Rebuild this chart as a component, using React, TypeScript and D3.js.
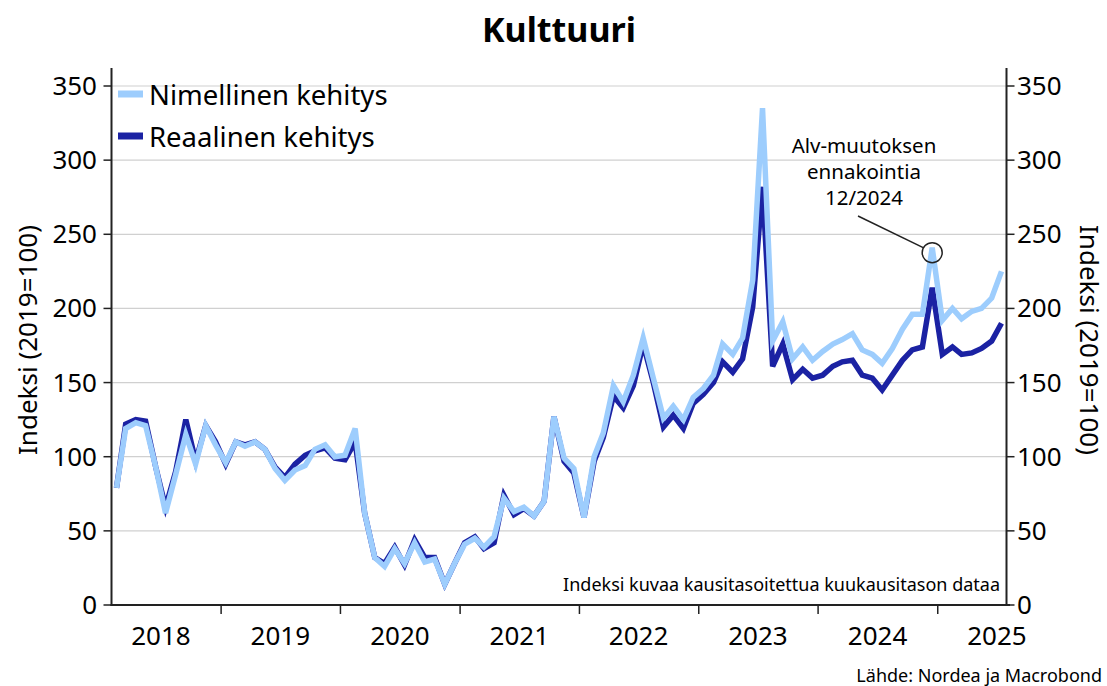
import React from 'react';
import * as d3 from 'd3';

// monthly, Feb 2018 .. Jul 2025
const startMonth = new Date(2018, 1, 15);

const nominal = [
  79, 119, 123, 121, 93, 62, 88, 115, 95, 121, 108,
  96, 110, 107, 110, 105, 92, 84, 91, 94, 105, 108, 100,
  101, 119, 62, 32, 26, 38, 28, 42, 29, 31, 14, 28,
  41, 45, 39, 46, 72, 63, 66, 60, 70, 127, 99, 92,
  59, 100, 116, 148, 137, 155, 180, 153, 126, 134, 125, 140,
  146, 155, 176, 169, 180, 219, 335, 178, 191, 166, 174, 165,
  171, 176, 179, 183, 172, 169, 163, 173, 186, 196, 196, 241,
  192, 200, 193, 198, 200, 207, 225,
];

const real = [
  79, 122, 125, 124, 93, 66, 90, 125, 97, 121, 110,
  95, 110, 108, 110, 105, 93, 86, 95, 101, 104, 106, 99,
  98, 110, 62, 32, 28, 39, 27, 44, 32, 32, 14, 28,
  42, 46, 38, 42, 74, 61, 65, 60, 70, 127, 97, 89,
  59, 97, 113, 141, 133, 148, 176, 150, 120, 128, 119, 136,
  142, 150, 164, 157, 166, 201, 282, 161, 176, 152, 159, 153,
  155, 161, 164, 165, 155, 153, 145, 155, 165, 172, 174, 214,
  169, 174, 169, 170, 173, 178, 190,
];

const years = [2018, 2019, 2020, 2021, 2022, 2023, 2024, 2025];
const yTicks = [0, 50, 100, 150, 200, 250, 300, 350];

const seriesNames = ['Nimellinen kehitys', 'Reaalinen kehitys'];
const colors = ['#9dcdfd', '#1b22a3'];

const W = 1107;
const H = 686;
const left = 111.5;
const right = 1006.5;
const top = 68;
const bottom = 605;
const font = '"Noto Sans", sans-serif';

const dates = nominal.map((_, i) => new Date(startMonth.getFullYear(), startMonth.getMonth() + i, 15));

const x = d3.scaleTime()
  .domain([dates[0], dates[dates.length - 1]])
  .range([116.5, 1001.5]);

const y = d3.scaleLinear().domain([0, 350]).range([bottom, 86]);

const line = d3.line<number>()
  .x((_, i) => x(dates[i]))
  .y(d => y(d));

const App = () => {
  const markIdx = dates.findIndex(d => d.getFullYear() === 2024 && d.getMonth() === 11);
  const mx = x(dates[markIdx]);
  const my = y(nominal[markIdx]);

  return (
    <svg width={W} height={H} style={{ display: 'block', position: 'absolute', left: 0, top: 0, background: '#fff' }}>
      <rect width={W} height={H} fill="#fff" />
      <text x={559} y={42} textAnchor="middle" fontFamily={font} fontWeight="bold" fontSize={34} fill="#000">
        Kulttuuri
      </text>

      {/* gridlines */}
      {yTicks.filter(t => t > 0).map(t => (
        <line key={t} x1={left} x2={right} y1={y(t)} y2={y(t)} stroke="#d0d0d0" strokeWidth={1.2} />
      ))}

      {/* left axis */}
      <line x1={left} x2={left} y1={top} y2={bottom + 1} stroke="#222" strokeWidth={2} />
      {yTicks.map(t => (
        <g key={'l' + t}>
          <line x1={left - 8} x2={left} y1={y(t)} y2={y(t)} stroke="#222" strokeWidth={1.5} />
          <text x={97} y={y(t) + 9} textAnchor="end" fontFamily={font} fontSize={26} fill="#000">{t}</text>
        </g>
      ))}
      <text transform={`translate(37,${340}) rotate(-90)`} textAnchor="middle"
        fontFamily={font} fontSize={26} fill="#000">Indeksi (2019=100)</text>

      {/* right axis */}
      <line x1={right} x2={right} y1={top} y2={bottom + 1} stroke="#222" strokeWidth={2} />
      {yTicks.map(t => (
        <g key={'r' + t}>
          <line x1={right} x2={right + 8} y1={y(t)} y2={y(t)} stroke="#222" strokeWidth={1.5} />
          <text x={1017} y={y(t) + 9} textAnchor="start" fontFamily={font} fontSize={26} fill="#000">{t}</text>
        </g>
      ))}
      <text transform={`translate(1080,${340}) rotate(90)`} textAnchor="middle"
        fontFamily={font} fontSize={26} fill="#000">Indeksi (2019=100)</text>

      {/* bottom axis */}
      <line x1={left - 1} x2={1010} y1={bottom} y2={bottom} stroke="#222" strokeWidth={2} />
      {years.slice(1).map(yr => (
        <line key={'t' + yr} x1={x(new Date(yr, 0, 1))} x2={x(new Date(yr, 0, 1))} y1={bottom} y2={bottom + 9}
          stroke="#222" strokeWidth={1.5} />
      ))}
      {years.map(yr => (
        <text key={'y' + yr} x={x(new Date(yr, 6, 1))} y={645} textAnchor="middle" fontFamily={font}
          fontSize={26} fill="#000">{yr}</text>
      ))}

      {/* series */}
      <path d={line(real) || ''} fill="none" stroke={colors[1]} strokeWidth={5.5} />
      <path d={line(nominal) || ''} fill="none" stroke={colors[0]} strokeWidth={5.5} />

      {/* legend */}
      {seriesNames.map((name, i) => (
        <g key={name} transform={`translate(0,${i * 42})`}>
          <line x1={118} x2={143} y1={94} y2={94} stroke={colors[i]} strokeWidth={7} />
          <text x={149} y={105} fontFamily={font} fontSize={27.5} fill="#000">{name}</text>
        </g>
      ))}

      {/* annotation */}
      <circle cx={mx} cy={my + 5} r={10} fill="none" stroke="#222" strokeWidth={1.5} />
      <line x1={858} y1={216} x2={mx - 9} y2={my} stroke="#222" strokeWidth={1.5} />
      {['Alv-muutoksen', 'ennakointia', '12/2024'].map((s, i) => (
        <text key={s} x={864} y={153 + i * 26} textAnchor="middle" fontFamily={font} fontSize={20.5} fill="#000">{s}</text>
      ))}

      <text x={1000} y={591} textAnchor="end" fontFamily={font} fontSize={18} fill="#000">
        Indeksi kuvaa kausitasoitettua kuukausitason dataa
      </text>
      <text x={1102} y={682} textAnchor="end" fontFamily={font} fontSize={18} fill="#000">
        Lähde: Nordea ja Macrobond
      </text>
    </svg>
  );
};

export default App;
